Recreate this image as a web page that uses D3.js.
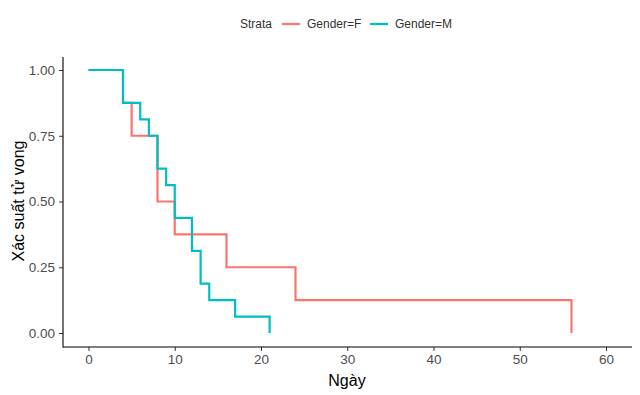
<!DOCTYPE html>
<html>
<head>
<meta charset="utf-8">
<script src="https://cdn.jsdelivr.net/npm/d3@7"></script>
<style>
  body { margin: 0; background: #fff; }
  text { font-family: "Liberation Sans", Arial, sans-serif; }
</style>
</head>
<body>
<svg id="chart" width="640" height="395"></svg>
<script>
// survival curves, one per stratum
const strata = ['Gender=F', 'Gender=M'];
const colors = ['#F8766D', '#00BFC4'];
const timesF = [0, 4, 5, 8, 10, 16, 24, 56];
const survF = [1, 0.875, 0.75, 0.5, 0.375, 0.25, 0.125, 0];
const timesM = [0, 4, 6, 7, 8, 9, 10, 12, 13, 14, 17, 21];
const survM = [1, 0.875, 0.8125, 0.75, 0.625, 0.5625, 0.4375, 0.3125, 0.1875, 0.125, 0.0625, 0];
const xTicks = [0, 10, 20, 30, 40, 50, 60];
const yTicks = [0, 0.25, 0.5, 0.75, 1];

const svg = d3.select('#chart');
const m = {left: 63, right: 632, top: 57, bottom: 347};

const x = d3.scaleLinear().domain([0, 60]).range([88.5, 606]);
const y = d3.scaleLinear().domain([0, 1]).range([333, 70]);

const series = [
  {name: strata[0], color: colors[0], pts: timesF.map((t, i) => [t, survF[i]])},
  {name: strata[1], color: colors[1], pts: timesM.map((t, i) => [t, survM[i]])}
];

const line = d3.line()
  .x(d => x(d[0]))
  .y(d => y(d[1]))
  .curve(d3.curveStepAfter);

// curves
svg.selectAll('.km').data(series).join('path')
  .attr('class', 'km')
  .attr('d', d => line(d.pts))
  .attr('fill', 'none')
  .attr('stroke', d => d.color)
  .attr('stroke-width', 2.2);

// axes
const xAxis = svg.append('g').attr('transform', `translate(0,${m.bottom})`)
  .call(d3.axisBottom(x).tickValues(xTicks).tickSize(4).tickPadding(3).tickSizeOuter(0));
const yAxis = svg.append('g').attr('transform', `translate(${m.left},0)`)
  .call(d3.axisLeft(y).tickValues(yTicks).tickFormat(d3.format('.2f')).tickSize(4).tickPadding(4).tickSizeOuter(0));

[xAxis, yAxis].forEach(a => {
  a.select('.domain').remove();
  a.selectAll('.tick line').attr('stroke', '#333').attr('stroke-width', 1);
  a.selectAll('.tick text').attr('fill', '#4D4D4D').style('font-size', '13.5px');
});

svg.append('line').attr('x1', m.left).attr('x2', m.left).attr('y1', m.top).attr('y2', m.bottom + 0.5)
  .attr('stroke', '#000').attr('stroke-width', 1.1);
svg.append('line').attr('x1', m.left).attr('x2', m.right).attr('y1', m.bottom).attr('y2', m.bottom)
  .attr('stroke', '#000').attr('stroke-width', 1.1);

// axis titles
svg.append('text').attr('x', 347).attr('y', 386).attr('text-anchor', 'middle')
  .style('font-size', '16px').attr('fill', '#000').text('Ngày');
svg.append('text').attr('transform', 'translate(24,201) rotate(-90)').attr('text-anchor', 'middle')
  .style('font-size', '16px').attr('fill', '#000').text('Xác suất tử vong');

// legend
const lg = svg.append('g').attr('transform', 'translate(240,24)');
lg.append('text').attr('x', 0).attr('y', 4).style('font-size', '12px').attr('fill', '#333').text('Strata');
const items = lg.selectAll('.item').data(series).join('g')
  .attr('class', 'item')
  .attr('transform', (d, i) => `translate(${42 + i * 88},0)`);
items.append('line').attr('x1', 0).attr('x2', 18).attr('y1', 0).attr('y2', 0)
  .attr('stroke', d => d.color).attr('stroke-width', 2.2);
items.append('text').attr('x', 25).attr('y', 4).style('font-size', '12px').attr('fill', '#333').text(d => d.name);
</script>
</body>
</html>
